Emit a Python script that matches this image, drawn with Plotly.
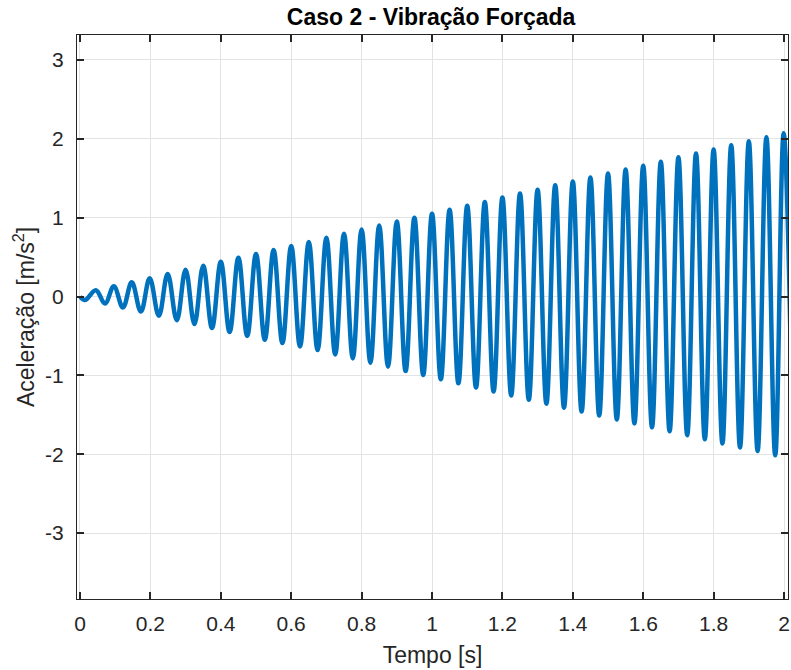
import plotly.graph_objects as go

# Forced vibration response (case 2): acceleration extrema over time
start_t = [0.0]
start_a = [0.0]

peak_t = [0.045, 0.096, 0.147, 0.198, 0.249, 0.300, 0.350, 0.400, 0.450, 0.500,
          0.550, 0.600, 0.650, 0.700, 0.750, 0.800, 0.850, 0.900, 0.950, 1.000,
          1.050, 1.100, 1.150, 1.200, 1.250, 1.300, 1.350, 1.400, 1.450, 1.500,
          1.550, 1.600, 1.650, 1.700, 1.750, 1.800, 1.850, 1.900, 1.950, 1.999]
peak_a = [0.08, 0.13, 0.18, 0.23, 0.285, 0.34, 0.39, 0.44, 0.49, 0.54,
          0.59, 0.64, 0.69, 0.745, 0.795, 0.85, 0.90, 0.95, 1.00, 1.05,
          1.10, 1.15, 1.20, 1.255, 1.305, 1.355, 1.41, 1.46, 1.51, 1.56,
          1.61, 1.66, 1.71, 1.765, 1.815, 1.865, 1.92, 1.97, 2.02, 2.07]

trough_t = [0.014, 0.071, 0.122, 0.173, 0.224, 0.275, 0.325, 0.375, 0.425, 0.475,
            0.525, 0.575, 0.625, 0.675, 0.725, 0.775, 0.825, 0.875, 0.925, 0.975,
            1.025, 1.075, 1.125, 1.175, 1.225, 1.275, 1.325, 1.375, 1.425, 1.475,
            1.525, 1.575, 1.625, 1.675, 1.725, 1.775, 1.825, 1.875, 1.925, 1.975,
            2.025]
trough_a = [-0.045, -0.09, -0.14, -0.19, -0.245, -0.30, -0.35, -0.40, -0.45, -0.50,
            -0.55, -0.59, -0.635, -0.68, -0.735, -0.785, -0.84, -0.89, -0.945, -0.995,
            -1.05, -1.10, -1.155, -1.205, -1.255, -1.31, -1.36, -1.41, -1.46, -1.51,
            -1.56, -1.61, -1.66, -1.71, -1.76, -1.81, -1.865, -1.915, -1.96, -2.015,
            -2.065]

x_ticks = [0, 0.2, 0.4, 0.6, 0.8, 1.0, 1.2, 1.4, 1.6, 1.8, 2.0]
x_labels = ["0", "0.2", "0.4", "0.6", "0.8", "1", "1.2", "1.4", "1.6", "1.8", "2"]
y_ticks = [-3, -2, -1, 0, 1, 2, 3]
y_labels = ["-3", "-2", "-1", "0", "1", "2", "3"]

pts = sorted(zip(start_t + peak_t + trough_t, start_a + peak_a + trough_a))
t = [p[0] for p in pts]
a = [p[1] for p in pts]

AX = "#262626"
FONT = "Liberation Sans, Arial, sans-serif"

fig = go.Figure(
    go.Scatter(x=t, y=a, mode="lines",
               line=dict(color="#0072BD", width=4.5, shape="spline", smoothing=1.1),
               showlegend=False)
)

axis_common = dict(
    showline=True, linecolor=AX, linewidth=1, mirror="allticks",
    ticks="inside", ticklen=7, tickwidth=1.5, tickcolor=AX,
    showgrid=True, gridcolor="#e3e3e3", gridwidth=1, zeroline=False,
    tickfont=dict(family=FONT, size=21, color=AX),
    ticklabeloverflow="allow",
)

fig.update_layout(
    width=791, height=670,
    margin=dict(l=77, r=1, t=35, b=71),
    paper_bgcolor="white", plot_bgcolor="white",
    title=dict(text="<b>Caso 2 - Vibração Forçada</b>", x=0.545, xanchor="center",
               y=0.975, yanchor="middle",
               font=dict(family=FONT, size=23, color="black")),
    xaxis=dict(range=[-0.0085, 2.0113], tickvals=x_ticks, ticktext=x_labels,
               title=dict(text="Tempo [s]", standoff=12,
                          font=dict(family=FONT, size=23, color=AX)),
               ticklabelstandoff=6, **axis_common),
    yaxis=dict(range=[-3.837, 3.317], tickvals=y_ticks, ticktext=y_labels,
               title=dict(text="Aceleração [m/s<sup>2</sup>]", standoff=4,
                          font=dict(family=FONT, size=23, color=AX)),
               ticklabelstandoff=8, **axis_common),
)

fig.write_html("out.html")
